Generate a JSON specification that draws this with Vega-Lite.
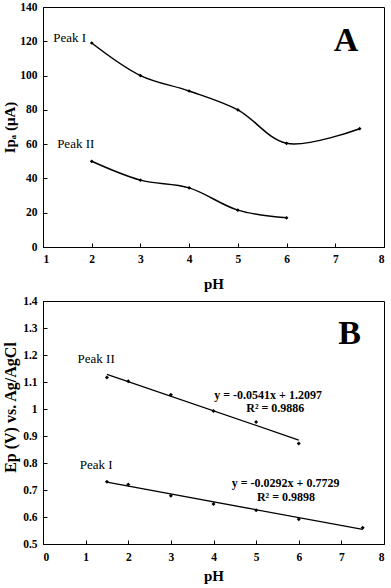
{
  "$schema": "https://vega.github.io/schema/vega-lite/v6.json",
  "background": "white",
  "padding": {"left": 2, "top": 0, "right": 0, "bottom": 1},
  "spacing": 2,
  "config": {
    "font": "Liberation Serif",
    "view": {"stroke": "black", "strokeWidth": 1},
    "axis": {
      "grid": false,
      "domainColor": "black",
      "tickColor": "black",
      "labelColor": "black",
      "titleColor": "black",
      "labelFont": "Liberation Serif",
      "titleFont": "Liberation Serif",
      "labelFontSize": 11.5,
      "labelFontWeight": "bold",
      "titleFontSize": 15,
      "titleFontWeight": "bold",
      "labelOverlap": false,
      "tickSize": -4
    }
  },
  "datasets": {
    "ipa": [
      {"pH": 2, "y": 119, "series": "Peak I"},
      {"pH": 3, "y": 100, "series": "Peak I"},
      {"pH": 4, "y": 91, "series": "Peak I"},
      {"pH": 5, "y": 80, "series": "Peak I"},
      {"pH": 6, "y": 60.5, "series": "Peak I"},
      {"pH": 7.5, "y": 69, "series": "Peak I"},
      {"pH": 2, "y": 50, "series": "Peak II"},
      {"pH": 3, "y": 39, "series": "Peak II"},
      {"pH": 4, "y": 34.5, "series": "Peak II"},
      {"pH": 5, "y": 21.5, "series": "Peak II"},
      {"pH": 6, "y": 17, "series": "Peak II"}
    ],
    "ipaLabels": [
      {"pH": 1.21, "y": 122, "label": "Peak  I"},
      {"pH": 1.29, "y": 60.3, "label": "Peak II"}
    ],
    "ipaBig": [
      {"pH": 7.22, "y": 120.2, "label": "A"}
    ],
    "ep": [
      {"pH": 1.5, "y": 1.117, "series": "Peak II"},
      {"pH": 2, "y": 1.103, "series": "Peak II"},
      {"pH": 3, "y": 1.053, "series": "Peak II"},
      {"pH": 4, "y": 0.993, "series": "Peak II"},
      {"pH": 5, "y": 0.952, "series": "Peak II"},
      {"pH": 6, "y": 0.872, "series": "Peak II"},
      {"pH": 1.5, "y": 0.731, "series": "Peak I"},
      {"pH": 2, "y": 0.720, "series": "Peak I"},
      {"pH": 3, "y": 0.679, "series": "Peak I"},
      {"pH": 4, "y": 0.648, "series": "Peak I"},
      {"pH": 5, "y": 0.625, "series": "Peak I"},
      {"pH": 6, "y": 0.592, "series": "Peak I"},
      {"pH": 7.5, "y": 0.560, "series": "Peak I"}
    ],
    "fit": [
      {"pH": 1.5, "y": 1.1286, "series": "Peak II"},
      {"pH": 6, "y": 0.8851, "series": "Peak II"},
      {"pH": 1.5, "y": 0.7291, "series": "Peak I"},
      {"pH": 7.5, "y": 0.5539, "series": "Peak I"}
    ],
    "epLabels": [
      {"pH": 0.81, "y": 1.185, "label": "Peak II"},
      {"pH": 0.86, "y": 0.792, "label": "Peak  I"}
    ],
    "epEq": [
      {"pH": 5.28, "y": 1.051, "label": "y = -0.0541x + 1.2097"},
      {"pH": 5.45, "y": 1.004, "label": "R² = 0.9886"},
      {"pH": 5.69, "y": 0.727, "label": "y = -0.0292x + 0.7729"},
      {"pH": 5.7, "y": 0.674, "label": "R² = 0.9898"}
    ],
    "epBig": [
      {"pH": 7.19, "y": 1.278, "label": "B"}
    ]
  },
  "vconcat": [
    {
      "width": 341,
      "height": 240,
      "layer": [
        {
          "data": {"name": "ipa"},
          "mark": {"type": "line", "interpolate": "catmull-rom", "color": "black", "strokeWidth": 1.5},
          "encoding": {
            "x": {"field": "pH", "type": "quantitative", "scale": {"domain": [1, 8], "nice": false}, "axis": {"title": "pH", "values": [1, 2, 3, 4, 5, 6, 7, 8], "tickCount": 20, "format": "d", "labelOverlap": false, "labelPadding": 10.5, "titlePadding": 11}},
            "y": {"field": "y", "type": "quantitative", "scale": {"domain": [0, 140], "nice": false}, "axis": {"title": "Ipₐ (μA)", "values": [0, 20, 40, 60, 80, 100, 120, 140], "tickCount": 20, "format": "d", "labelOverlap": false, "labelPadding": 10, "titlePadding": 2}},
            "detail": {"field": "series"}
          }
        },
        {
          "data": {"name": "ipa"},
          "mark": {"type": "point", "shape": "diamond", "filled": true, "color": "black", "size": 14, "opacity": 1},
          "encoding": {
            "x": {"field": "pH", "type": "quantitative"},
            "y": {"field": "y", "type": "quantitative"}
          }
        },
        {
          "data": {"name": "ipaLabels"},
          "mark": {"type": "text", "align": "left", "baseline": "middle", "color": "black", "fontSize": 13},
          "encoding": {
            "x": {"field": "pH", "type": "quantitative"},
            "y": {"field": "y", "type": "quantitative"},
            "text": {"field": "label"}
          }
        },
        {
          "data": {"name": "ipaBig"},
          "mark": {"type": "text", "align": "center", "baseline": "middle", "color": "black", "fontSize": 34, "fontWeight": "bold"},
          "encoding": {
            "x": {"field": "pH", "type": "quantitative"},
            "y": {"field": "y", "type": "quantitative"},
            "text": {"field": "label"}
          }
        }
      ]
    },
    {
      "width": 341,
      "height": 243,
      "layer": [
        {
          "data": {"name": "fit"},
          "mark": {"type": "line", "color": "black", "strokeWidth": 1.3},
          "encoding": {
            "x": {"field": "pH", "type": "quantitative", "scale": {"domain": [0, 8], "nice": false}, "axis": {"title": "pH", "values": [0, 1, 2, 3, 4, 5, 6, 7, 8], "tickCount": 20, "format": "d", "labelOverlap": false, "labelPadding": 11.5, "titlePadding": 5}},
            "y": {"field": "y", "type": "quantitative", "scale": {"domain": [0.5, 1.4], "nice": false, "zero": false}, "axis": {"title": "Ep (V) vs. Ag/AgCl", "titleFontSize": 16, "titleY": 106, "values": [0.5, 0.6, 0.7, 0.8, 0.9, 1, 1.1, 1.2, 1.3, 1.4], "tickCount": 20, "format": "~g", "labelOverlap": false, "labelPadding": 10, "titlePadding": 4}},
            "detail": {"field": "series"}
          }
        },
        {
          "data": {"name": "ep"},
          "mark": {"type": "point", "shape": "diamond", "filled": true, "color": "black", "size": 16, "opacity": 1},
          "encoding": {
            "x": {"field": "pH", "type": "quantitative"},
            "y": {"field": "y", "type": "quantitative"}
          }
        },
        {
          "data": {"name": "epLabels"},
          "mark": {"type": "text", "align": "left", "baseline": "middle", "color": "black", "fontSize": 13},
          "encoding": {
            "x": {"field": "pH", "type": "quantitative"},
            "y": {"field": "y", "type": "quantitative"},
            "text": {"field": "label"}
          }
        },
        {
          "data": {"name": "epEq"},
          "mark": {"type": "text", "align": "center", "baseline": "middle", "color": "black", "fontSize": 12, "fontWeight": "bold"},
          "encoding": {
            "x": {"field": "pH", "type": "quantitative"},
            "y": {"field": "y", "type": "quantitative"},
            "text": {"field": "label"}
          }
        },
        {
          "data": {"name": "epBig"},
          "mark": {"type": "text", "align": "center", "baseline": "middle", "color": "black", "fontSize": 34, "fontWeight": "bold"},
          "encoding": {
            "x": {"field": "pH", "type": "quantitative"},
            "y": {"field": "y", "type": "quantitative"},
            "text": {"field": "label"}
          }
        }
      ]
    }
  ]
}
